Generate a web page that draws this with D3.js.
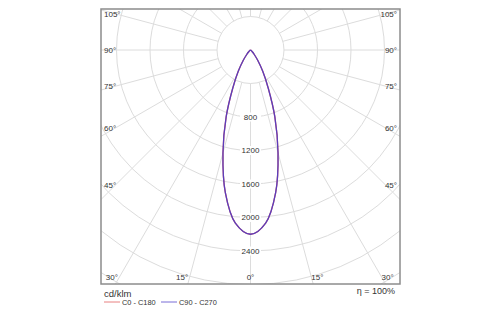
<!DOCTYPE html>
<html>
<head>
<meta charset="utf-8">
<script src="https://cdn.jsdelivr.net/npm/d3@7"></script>
<style>
  html, body { margin: 0; padding: 0; background: #fff; }
  svg { display: block; font-family: "Liberation Sans", Arial, sans-serif; }
</style>
</head>
<body>
<svg id="chart" width="500" height="325"></svg>
<script>
// Luminous intensity distribution (cd/klm), gamma angle in degrees from nadir
const gammaAngles = [0, 5, 10, 15, 20, 25, 30, 35, 40, 45, 50, 55, 60, 65, 70, 75, 80, 85, 90,
                     95, 100, 105, 110, 115, 120, 125, 130, 135, 140, 145, 150, 155, 160, 165, 170, 175, 180];
const c0c180 = [2200, 2075, 1730, 1270, 850, 500, 290, 150, 70, 30, 12, 5, 2, 0, 0, 0, 0, 0, 0,
                0, 0, 0, 0, 0, 0, 0, 0, 0, 0, 0, 0, 0, 0, 0, 0, 0, 0];
const c90c270 = [2200, 2075, 1730, 1270, 850, 500, 290, 150, 70, 30, 12, 5, 2, 0, 0, 0, 0, 0, 0,
                 0, 0, 0, 0, 0, 0, 0, 0, 0, 0, 0, 0, 0, 0, 0, 0, 0, 0];

const ringValues = [400, 800, 1200, 1600, 2000, 2400, 2800, 3200, 3600];
const ringLabels = [800, 1200, 1600, 2000, 2400];
const spokeAngles = [0, 15, 30, 45, 60, 75, 90, 105, 120, 135, 150, 165, 180];
const sideAngleLabels = [45, 60, 75, 90, 105];
const bottomAngleLabels = [0, 15, 30];
const seriesNames = ["C0 - C180", "C90 - C270"];
const unitLabel = "cd/klm";
const efficiencyLabel = "η = 100%";

const svg = d3.select("#chart");
const frame = { left: 101, top: 9, right: 400, bottom: 284 };
const cx = (frame.left + frame.right) / 2;
const cy = 50;

const r = d3.scaleLinear().domain([0, 400]).range([0, 33.5]);

const gridColor = "#dcdcdc";
const textColor = "#333";

svg.append("defs").append("clipPath").attr("id", "plotClip")
  .append("rect")
  .attr("x", frame.left).attr("y", frame.top)
  .attr("width", frame.right - frame.left).attr("height", frame.bottom - frame.top);

const plot = svg.append("g").attr("clip-path", "url(#plotClip)");
const g = plot.append("g").attr("transform", `translate(${cx},${cy})`);

// concentric rings
g.selectAll("circle.ring").data(ringValues).join("circle")
  .attr("class", "ring")
  .attr("r", d => r(d))
  .attr("fill", "none")
  .attr("stroke", gridColor)
  .attr("stroke-width", 1);

// radial spokes on both sides, starting at the innermost ring
const rMax = r(4000);
const spokes = [];
spokeAngles.forEach(a => { spokes.push(a); if (a > 0 && a < 180) spokes.push(-a); });
g.selectAll("line.spoke").data(spokes).join("line")
  .attr("class", "spoke")
  .attr("x1", d => r(ringValues[0]) * Math.sin(d * Math.PI / 180))
  .attr("y1", d => r(ringValues[0]) * Math.cos(d * Math.PI / 180))
  .attr("x2", d => rMax * Math.sin(d * Math.PI / 180))
  .attr("y2", d => rMax * Math.cos(d * Math.PI / 180))
  .attr("stroke", gridColor)
  .attr("stroke-width", 1);

// intensity curves: one half-plane on the right, the opposite one on the left
function polarPoints(values) {
  const pts = [];
  for (let i = gammaAngles.length - 1; i >= 0; i--) pts.push([Math.PI - gammaAngles[i] * Math.PI / 180, r(values[i])]);
  for (let i = 1; i < gammaAngles.length; i++) pts.push([Math.PI + gammaAngles[i] * Math.PI / 180, r(values[i])]);
  return pts;
}
const radial = d3.lineRadial().angle(d => d[0]).radius(d => d[1]).curve(d3.curveCatmullRom.alpha(0.5));

const seriesColors = ["#e05555", "#4b3cc8"];

// ring value labels along the nadir axis
const ringLabelG = g.selectAll("g.rlab").data(ringLabels).join("g")
  .attr("class", "rlab")
  .attr("transform", d => `translate(0,${r(d)})`);
ringLabelG.append("rect")
  .attr("x", -10.5).attr("y", -4.5).attr("width", 21).attr("height", 9)
  .attr("fill", "#fff");
ringLabelG.append("text")
  .attr("text-anchor", "middle")
  .attr("dy", "0.35em")
  .attr("font-size", 8)
  .attr("fill", textColor)
  .text(d => d);

g.append("path").datum(polarPoints(c0c180))
  .attr("d", radial).attr("fill", "none")
  .attr("stroke", seriesColors[0]).attr("stroke-width", 1.3);
g.append("path").datum(polarPoints(c90c270))
  .attr("d", radial).attr("fill", "none")
  .attr("stroke", seriesColors[1]).attr("stroke-width", 1.3).attr("stroke-opacity", 0.9);

// frame
svg.append("rect")
  .attr("x", frame.left).attr("y", frame.top)
  .attr("width", frame.right - frame.left).attr("height", frame.bottom - frame.top)
  .attr("fill", "none").attr("stroke", "#8c8c8c").attr("stroke-width", 1.5);

// angle labels on the side edges
const sideInset = 135;
const labelFont = 8;
sideAngleLabels.forEach(a => {
  const y = cy + sideInset / Math.tan(a * Math.PI / 180);
  svg.append("text").attr("x", frame.left + 3).attr("y", y).attr("dy", "0.35em")
    .attr("font-size", labelFont).attr("fill", textColor).text(a + "°");
  svg.append("text").attr("x", frame.right - 3).attr("y", y).attr("dy", "0.35em")
    .attr("text-anchor", "end")
    .attr("font-size", labelFont).attr("fill", textColor).text(a + "°");
});

// angle labels on the bottom edge
const bottomY = 277;
bottomAngleLabels.forEach(a => {
  const dx = (bottomY - cy) * Math.tan(a * Math.PI / 180);
  if (a === 0) {
    svg.append("text").attr("x", cx).attr("y", bottomY).attr("dy", "0.35em")
      .attr("text-anchor", "middle").attr("font-size", labelFont).attr("fill", textColor).text(a + "°");
  } else {
    svg.append("text").attr("x", cx - dx - 1.5).attr("y", bottomY).attr("dy", "0.35em")
      .attr("text-anchor", "end").attr("font-size", labelFont).attr("fill", textColor).text(a + "°");
    svg.append("text").attr("x", cx + dx).attr("y", bottomY).attr("dy", "0.35em")
      .attr("text-anchor", "start").attr("font-size", labelFont).attr("fill", textColor).text(a + "°");
  }
});

// legend
svg.append("text").attr("x", 104).attr("y", 297)
  .attr("font-size", 9.5).attr("fill", textColor).text(unitLabel);
const legendX = [104, 161];
seriesNames.forEach((name, i) => {
  svg.append("line")
    .attr("x1", legendX[i]).attr("x2", legendX[i] + 16)
    .attr("y1", 302).attr("y2", 302)
    .attr("stroke", seriesColors[i]).attr("stroke-width", 1).attr("stroke-opacity", 0.75);
  svg.append("text").attr("x", legendX[i] + 18).attr("y", 302).attr("dy", "0.35em")
    .attr("font-size", 7.4).attr("fill", textColor).text(name);
});
svg.append("text").attr("x", 395).attr("y", 294)
  .attr("text-anchor", "end")
  .attr("font-size", 9).attr("fill", textColor).text(efficiencyLabel);
</script>
</body>
</html>
